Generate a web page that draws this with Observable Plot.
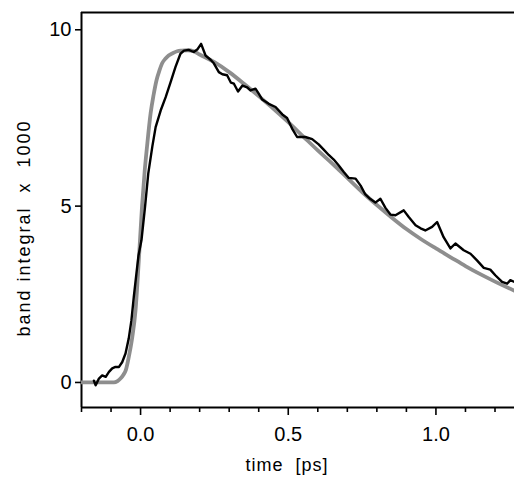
<!DOCTYPE html>
<html>
<head>
<meta charset="utf-8">
<script src="https://cdn.jsdelivr.net/npm/d3@7"></script>
<script src="https://cdn.jsdelivr.net/npm/@observablehq/plot@0.6"></script>
<style>
  html, body { margin: 0; padding: 0; background: #fff; }
  #chart svg { display: block; }
  .xlbl text { white-space: pre; letter-spacing: 1px; }
  .ylbl text { white-space: pre; letter-spacing: 2px; }
</style>
</head>
<body>
<div id="chart"></div>
<script>
// ---- data ----
const xMajorTicks = [0.0, 0.5, 1.0];
const xMinorTicks = [-0.2, -0.1, 0.1, 0.2, 0.3, 0.4, 0.6, 0.7, 0.8, 0.9, 1.1, 1.2];
const yTicks = [0, 5, 10];
const xDomain = [-0.2, 1.266];
const yDomain = [-0.71, 10.49];
const xTitle = "time  [ps]";
const yTitle = "band integral  x  1000";

// fit curve (grey)
const fitTime  = [-0.2, -0.09, -0.078, -0.068, -0.058, -0.05, -0.04, -0.028, -0.017, -0.006, 0.005, 0.014, 0.022, 0.034, 0.044, 0.054, 0.064, 0.073, 0.084, 0.095, 0.11, 0.124, 0.14, 0.16, 0.18, 0.2, 0.25, 0.3, 0.35, 0.4, 0.45, 0.5, 0.55, 0.6, 0.65, 0.7, 0.75, 0.8, 0.85, 0.9, 0.95, 1.0, 1.05, 1.1, 1.15, 1.2, 1.266];
const fitValue = [0, 0, 0.04, 0.11, 0.22, 0.35, 0.72, 1.29, 2.05, 3.46, 5.0, 6.0, 6.7, 7.63, 8.15, 8.57, 8.85, 9.05, 9.18, 9.27, 9.34, 9.39, 9.41, 9.42, 9.39, 9.3, 9.08, 8.8, 8.47, 8.12, 7.76, 7.38, 6.98, 6.58, 6.2, 5.8, 5.4, 5.03, 4.68, 4.35, 4.06, 3.8, 3.55, 3.3, 3.07, 2.86, 2.6];

// measured band integral (black)
const dataTime  = [-0.158, -0.152, -0.141, -0.130, -0.118, -0.107, -0.096, -0.085, -0.073, -0.062, -0.051, -0.040, -0.031, -0.023, -0.014, -0.007, 0.003, 0.015, 0.026, 0.040, 0.051, 0.068, 0.085, 0.102, 0.118, 0.135, 0.147, 0.163, 0.180, 0.193, 0.205, 0.220, 0.237, 0.248, 0.265, 0.277, 0.293, 0.306, 0.316, 0.330, 0.345, 0.361, 0.372, 0.389, 0.400, 0.412, 0.434, 0.457, 0.480, 0.496, 0.513, 0.530, 0.545, 0.558, 0.581, 0.603, 0.620, 0.637, 0.654, 0.671, 0.688, 0.705, 0.728, 0.745, 0.761, 0.778, 0.795, 0.812, 0.829, 0.846, 0.863, 0.891, 0.908, 0.931, 0.948, 0.964, 0.987, 1.004, 1.026, 1.049, 1.066, 1.094, 1.117, 1.139, 1.162, 1.184, 1.201, 1.224, 1.241, 1.252, 1.266];
const dataValue = [0.05, -0.08, 0.11, 0.2, 0.16, 0.3, 0.4, 0.44, 0.44, 0.58, 0.82, 1.25, 1.76, 2.42, 3.09, 3.6, 4.03, 4.97, 5.92, 6.7, 7.24, 7.71, 8.09, 8.52, 8.94, 9.32, 9.41, 9.43, 9.37, 9.45, 9.6, 9.27, 9.15, 9.05, 8.8, 8.74, 8.71, 8.5, 8.47, 8.25, 8.42, 8.37, 8.28, 8.33, 8.19, 8.02, 7.9, 7.81, 7.6, 7.5, 7.2, 6.96, 6.96, 6.96, 6.9, 6.75, 6.6, 6.45, 6.32, 6.15, 5.97, 5.8, 5.78, 5.58, 5.33, 5.2, 5.1, 5.21, 4.95, 4.76, 4.74, 4.88, 4.69, 4.46, 4.37, 4.31, 4.41, 4.55, 4.12, 3.8, 3.94, 3.75, 3.65, 3.46, 3.25, 3.2, 3.04, 2.85, 2.8, 2.9, 2.85];

const fit = fitTime.map((t, i) => ({t, v: fitValue[i]}));
const meas = dataTime.map((t, i) => ({t, v: dataValue[i]}));

const font = "'Liberation Sans', Arial, Helvetica, sans-serif";

const chart = Plot.plot({
  width: 514,
  height: 483,
  marginLeft: 81,
  marginRight: 0,
  marginTop: 12,
  marginBottom: 76,
  style: {fontFamily: font, color: "#000", background: "#fff", overflow: "visible"},
  x: {domain: xDomain, axis: null},
  y: {domain: yDomain, axis: null},
  marks: [
    // frame lines
    Plot.ruleX([xDomain[0]], {stroke: "#000", strokeWidth: 2}),
    Plot.ruleY([yDomain[0], yDomain[1]], {stroke: "#000", strokeWidth: 2.2}),
    // minor x ticks
    Plot.axisX({ticks: xMinorTicks, tickSize: 5, tickFormat: () => "", strokeWidth: 1.6, label: null}),
    // major x ticks
    Plot.axisX({ticks: xMajorTicks, tickSize: 8, tickPadding: 11, strokeWidth: 1.6, fontSize: 20,
                tickFormat: d3.format(".1f"), label: null}),
    Plot.axisY({ticks: yTicks, tickSize: 6, tickPadding: 4, strokeWidth: 1.6, fontSize: 20,
                tickFormat: d3.format("d"), label: null}),
    // curves
    Plot.line(fit, {x: "t", y: "v", stroke: "#8e8e8e", strokeWidth: 3.8, curve: "monotone-x", clip: true}),
    Plot.line(meas, {x: "t", y: "v", stroke: "#000", strokeWidth: 2.4, curve: "linear", clip: true}),
    // axis titles
    Plot.text([xTitle], {frameAnchor: "bottom", text: d => d, dx: -11, dy: 58, fontSize: 18,
                         textAnchor: "middle", lineAnchor: "middle", className: "xlbl", fill: "#000"}),
    Plot.text([yTitle], {frameAnchor: "left", text: d => d, rotate: -90, dx: -57, dy: 18, fontSize: 18,
                         textAnchor: "middle", lineAnchor: "middle", className: "ylbl", fill: "#000"})
  ]
});
document.getElementById("chart").appendChild(chart);
</script>
</body>
</html>
